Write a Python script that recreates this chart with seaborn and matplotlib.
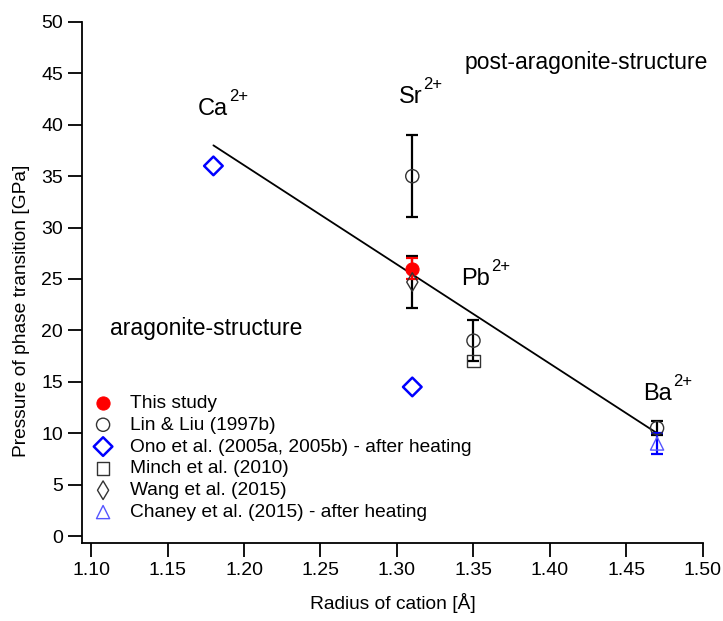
import numpy as np
import pandas as pd
import matplotlib
matplotlib.use("Agg")
import matplotlib.pyplot as plt
import seaborn as sns

sns.set_theme(style="ticks")
plt.rcParams['font.family'] = ['Liberation Sans', 'DejaVu Sans']

# Data
this_x = [1.31]; this_y = [26.0]; this_err = [1.0]
lin_x = [1.31, 1.35, 1.47]; lin_y = [35.0, 19.0, 10.5]; lin_err = [4.0, 2.0, 0.7]
ono_x = [1.18, 1.31]; ono_y = [36.0, 14.5]
minch_x = [1.35]; minch_y = [17.0]
wang_x = [1.31]; wang_y = [24.7]; wang_err = [2.5]
chaney_x = [1.47]; chaney_y = [9.0]; chaney_err = [1.0]
fit_x = [1.18, 1.47]; fit_y = [38.0, 10.0]

ions = ["Ca", "Sr", "Pb", "Ba"]
charge = "2+"
ion_x = [1.170, 1.301, 1.3416, 1.4607]
ion_y = [40.95, 42.1, 24.4, 13.2]

fig = plt.figure(figsize=(7.23, 6.21), dpi=100)
ax = fig.add_axes([0.1134, 0.1256, 0.8589, 0.839])

# fit line
sns.lineplot(x=fit_x, y=fit_y, ax=ax, color='black', lw=1.3, zorder=2)

eb = dict(fmt='none', elinewidth=1.6, capsize=4.5, capthick=1.6)
ax.errorbar(lin_x, lin_y, yerr=lin_err, ecolor='black', zorder=3, **eb)
ax.errorbar(wang_x, wang_y, yerr=wang_err, ecolor='black', zorder=3, **eb)
ax.errorbar(chaney_x, chaney_y, yerr=chaney_err, ecolor='blue', zorder=3, **eb)
ax.errorbar(this_x, this_y, yerr=this_err, ecolor='red', zorder=4, **eb)

sns.scatterplot(x=this_x, y=this_y, ax=ax, marker='o', s=90, color='red', edgecolor='red', label='This study', zorder=5)
sns.scatterplot(x=lin_x, y=lin_y, ax=ax, marker='o', s=90, facecolor='none', edgecolor='#333333', linewidth=1.0, label='Lin & Liu (1997b)', zorder=5)
sns.scatterplot(x=ono_x, y=ono_y, ax=ax, marker='D', s=90, facecolor='none', edgecolor='blue', linewidth=1.8, label='Ono et al. (2005a, 2005b) - after heating', zorder=5)
sns.scatterplot(x=minch_x, y=minch_y, ax=ax, marker='s', s=80, facecolor='none', edgecolor='#333333', linewidth=1.0, label='Minch et al. (2010)', zorder=5)
sns.scatterplot(x=wang_x, y=wang_y, ax=ax, marker='d', s=90, facecolor='none', edgecolor='#333333', linewidth=1.0, label='Wang et al. (2015)', zorder=5)
sns.scatterplot(x=chaney_x, y=chaney_y, ax=ax, marker='^', s=90, facecolor='none', edgecolor='#5555ff', linewidth=1.0, label='Chaney et al. (2015) - after heating', zorder=5)

for name, xx, yy in zip(ions, ion_x, ion_y):
    t = ax.text(xx, yy, name, fontsize=17, ha='left', va='baseline', color='black')
    ax.annotate(charge, xy=(1.0, 0.88), xycoords=t, xytext=(1, 0), textcoords='offset points',
                fontsize=12, ha='left', va='baseline', color='black')

ax.text(1.424, 46.1, 'post-aragonite-structure', fontsize=16.5, ha='center', va='center', color='black')
ax.text(1.175, 20.2, 'aragonite-structure', fontsize=16.5, ha='center', va='center', color='black')

ax.set_xlim(1.0941, 1.50)
ax.set_ylim(-0.68, 50)
xt = np.arange(1.10, 1.501, 0.05)
ax.set_xticks(xt)
ax.set_xticklabels([f"{v:.2f}" for v in xt])
ax.set_yticks(np.arange(0, 51, 5))
ax.tick_params(axis='both', labelsize=14, direction='out', length=10, width=1.3, color='black', labelcolor='black')
sns.despine(ax=ax)
ax.spines['left'].set_bounds(-0.68, 50)
ax.spines['bottom'].set_bounds(1.0941, 1.50)
for s in ['left', 'bottom']:
    ax.spines[s].set_linewidth(1.3)
    ax.spines[s].set_color('black')
ax.set_xlabel('Radius of cation [Å]', fontsize=13.8, labelpad=10, color='black')
ax.set_ylabel('Pressure of phase transition [GPa]', fontsize=13.8, color='black')
ax.yaxis.set_label_coords(-0.084, 0.445)

leg = ax.legend(loc='lower left', bbox_to_anchor=(0.0, 0.02), frameon=False, fontsize=13.8,
                handletextpad=0.9, labelspacing=0.23, borderaxespad=0.2, handlelength=1.0)
for t in leg.get_texts():
    t.set_color('black')

fig.savefig('out.png', dpi=100)
